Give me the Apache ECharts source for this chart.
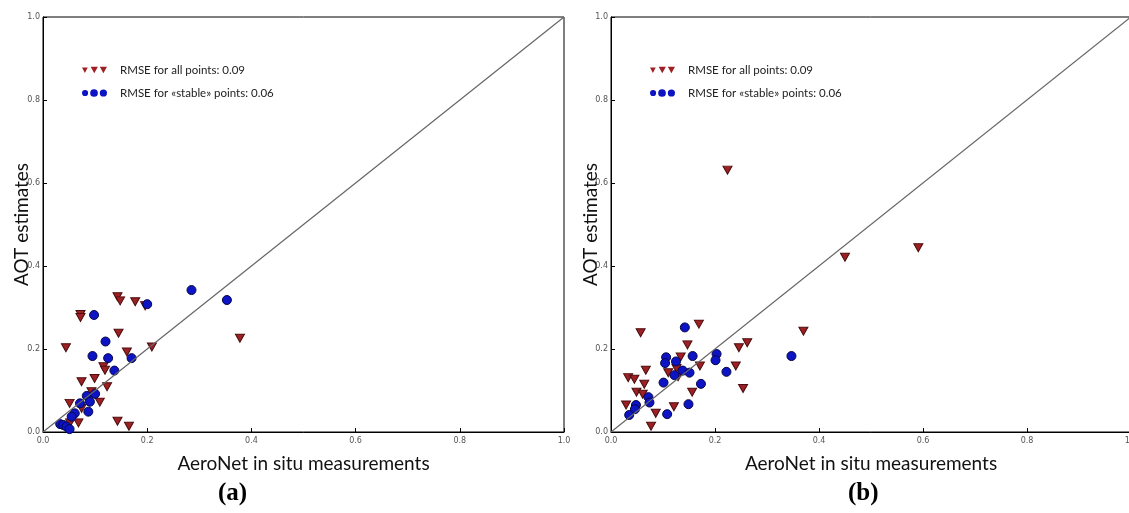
<!DOCTYPE html>
<html>
<head>
<meta charset="utf-8">
<script src="https://cdn.jsdelivr.net/npm/echarts@6/dist/echarts.min.js"></script>
<style>
html, body { margin: 0; padding: 0; background: #fff; }
#main { width: 1129px; height: 513px; }
</style>
</head>
<body>
<div id="main"></div>
<script>
// axis ticks, shared by both panels
var tickValues = [0, 0.2, 0.4, 0.6, 0.8, 1.0];
var diagonal = [[0, 0], [1, 1]];

var nameAll = 'RMSE for all points: 0.09';
var nameStable = 'RMSE for \u00abstable\u00bb points: 0.06';

// panel (a)
var allA = [
    [0.143, 0.326], [0.148, 0.316], [0.177, 0.314], [0.196, 0.304],
    [0.072, 0.283], [0.072, 0.276], [0.145, 0.238], [0.044, 0.203],
    [0.161, 0.193], [0.209, 0.205], [0.378, 0.226], [0.116, 0.157],
    [0.119, 0.149], [0.074, 0.121], [0.099, 0.129], [0.123, 0.109],
    [0.093, 0.097], [0.051, 0.069], [0.109, 0.072], [0.074, 0.057],
    [0.143, 0.026], [0.165, 0.014], [0.068, 0.022], [0.052, 0.022]
];
var stableA = [
    [0.285, 0.342], [0.353, 0.318], [0.200, 0.308], [0.098, 0.282],
    [0.120, 0.218], [0.095, 0.183], [0.125, 0.178], [0.170, 0.178],
    [0.137, 0.148], [0.084, 0.087], [0.100, 0.092], [0.090, 0.073],
    [0.071, 0.069], [0.087, 0.049], [0.061, 0.045], [0.055, 0.037],
    [0.033, 0.019], [0.039, 0.017], [0.045, 0.013], [0.051, 0.007]
];

// panel (b)
var allB = [
    [0.169, 0.260], [0.057, 0.239], [0.147, 0.210], [0.262, 0.215],
    [0.246, 0.203], [0.370, 0.243], [0.134, 0.181], [0.171, 0.159],
    [0.240, 0.159], [0.067, 0.149], [0.110, 0.143], [0.126, 0.153],
    [0.129, 0.133], [0.033, 0.131], [0.045, 0.127], [0.064, 0.115],
    [0.049, 0.096], [0.061, 0.091], [0.156, 0.096], [0.254, 0.105],
    [0.029, 0.065], [0.121, 0.061], [0.086, 0.045], [0.077, 0.014],
    [0.224, 0.631], [0.450, 0.421], [0.591, 0.444]
];
var stableB = [
    [0.142, 0.252], [0.106, 0.180], [0.104, 0.166], [0.125, 0.170],
    [0.157, 0.183], [0.203, 0.188], [0.201, 0.173], [0.222, 0.145],
    [0.347, 0.183], [0.138, 0.148], [0.151, 0.143], [0.122, 0.137],
    [0.101, 0.119], [0.173, 0.116], [0.072, 0.084], [0.074, 0.071],
    [0.048, 0.065], [0.046, 0.055], [0.149, 0.067], [0.035, 0.041],
    [0.108, 0.043]
];

var triColor = '#9e1f24', triEdge = '#4a0e0e';
var dotColor = '#0d14c4', dotEdge = '#06064a';

function makeAxis(gi, dim, title, gap) {
    return {
        gridIndex: gi,
        type: 'value',
        min: tickValues[0],
        max: tickValues[tickValues.length - 1],
        interval: 0.2,
        splitLine: {show: false},
        axisLine: {lineStyle: {color: '#000', width: 1}},
        axisTick: {inside: true, length: 4, lineStyle: {color: '#000'}},
        axisLabel: {
            fontSize: 8, color: '#555', fontFamily: 'DejaVu Sans',
            margin: dim == 'x' ? 5 : 3,
            showMinLabel: true, showMaxLabel: true,
            formatter: function (v) { return v.toFixed(1); }
        },
        name: title,
        nameLocation: 'middle',
        nameGap: gap,
        nameMoveOverlap: false,
        nameTextStyle: {fontFamily: 'Lato', fontSize: 19, color: '#111'}
    };
}

function makeSeries(gi, all, stable) {
    return [
        {
            type: 'line', xAxisIndex: gi, yAxisIndex: gi, data: diagonal,
            showSymbol: false, silent: true,
            lineStyle: {color: '#666', width: 1.2}
        },
        {
            name: nameAll, type: 'scatter', xAxisIndex: gi, yAxisIndex: gi,
            data: all, symbol: 'triangle', symbolRotate: 180, symbolSize: [9, 8],
            itemStyle: {color: triColor, borderColor: triEdge, borderWidth: 1, opacity: 1}
        },
        {
            name: nameStable, type: 'scatter', xAxisIndex: gi, yAxisIndex: gi,
            data: stable, symbol: 'circle', symbolSize: 9,
            itemStyle: {color: dotColor, borderColor: dotEdge, borderWidth: 1, opacity: 1}
        }
    ];
}

// three small markers per legend row, like the scatterpoints legend
var triIcon = 'path://M0,1.5L6,1.5L3,7ZM9,0.5L16.5,0.5L12.75,7.5ZM18.5,0.5L26,0.5L22.25,7.5Z';
var dotIcon = 'path://M0,4A3.2,3.2 0 1,1 6.4,4A3.2,3.2 0 1,1 0,4ZM8.5,4A4,4 0 1,1 16.5,4A4,4 0 1,1 8.5,4ZM18.5,4A3.75,3.75 0 1,1 26,4A3.75,3.75 0 1,1 18.5,4Z';

function makeLegend(x) {
    return {
        left: x, top: 63, orient: 'vertical', itemGap: 9, padding: 0,
        itemWidth: 25, itemHeight: 9, selectedMode: false,
        itemStyle: {borderWidth: 0},
        textStyle: {fontFamily: 'Lato', fontSize: 11.5, color: '#222', lineHeight: 14, padding: [0, 0, 0, 8]},
        data: [{name: nameAll, icon: triIcon}, {name: nameStable, icon: dotIcon}]
    };
}

var myChart = echarts.init(document.getElementById('main'), null, {renderer: 'canvas'});

var option = {
    animation: false,
    backgroundColor: '#fff',
    grid: [
        {left: 43, top: 17, width: 521, height: 415, show: true, borderColor: '#000', borderWidth: 1, outerBoundsMode: 'none'},
        {left: 611, top: 17, width: 520, height: 415, show: true, borderColor: '#000', borderWidth: 1, outerBoundsMode: 'none'}
    ],
    legend: [makeLegend(82), makeLegend(650)],
    xAxis: [
        makeAxis(0, 'x', 'AeroNet in situ measurements', 22),
        makeAxis(1, 'x', 'AeroNet in situ measurements', 22)
    ],
    yAxis: [
        makeAxis(0, 'y', 'AOT estimates', 12),
        makeAxis(1, 'y', 'AOT estimates', 11)
    ],
    graphic: [
        {type: 'text', left: 218, top: 481, style: {text: '(a)', font: 'bold 25px "Liberation Serif"', fill: '#000'}},
        {type: 'text', left: 848, top: 481, style: {text: '(b)', font: 'bold 25px "Liberation Serif"', fill: '#000'}}
    ],
    series: makeSeries(0, allA, stableA).concat(makeSeries(1, allB, stableB))
};

myChart.setOption(option);
window.onresize = myChart.resize;
</script>
</body>
</html>
